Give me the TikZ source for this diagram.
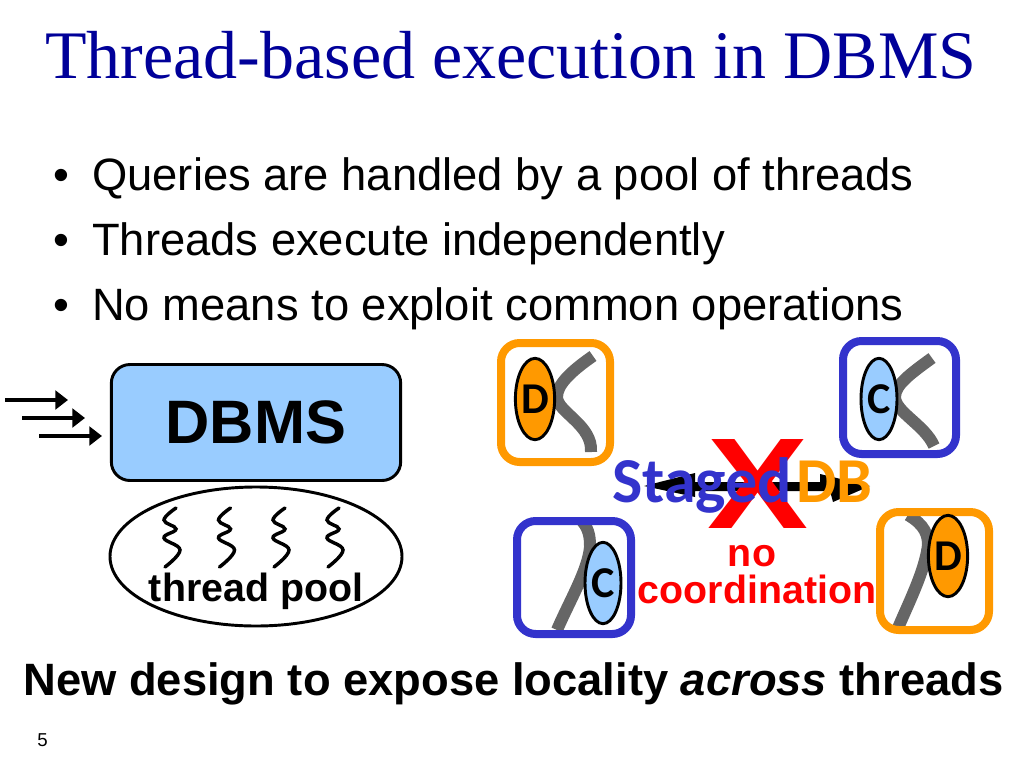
\documentclass[tikz,border=0pt]{standalone}
\usepackage{fontspec}
\setmainfont{Liberation Sans}
\newfontfamily\titlefont{Liberation Serif}
\newfontfamily\handfont{Carlito}
\usetikzlibrary{arrows.meta, shapes.geometric}
\definecolor{titleblue}{HTML}{000099}
\definecolor{boxblue}{HTML}{3333CC}
\definecolor{boxorange}{HTML}{FF9900}
\definecolor{lightblue}{HTML}{99CCFF}
\definecolor{threadgray}{HTML}{666666}
\newcommand{\fs}[1]{\fontsize{#1}{#1}\selectfont}

\begin{document}
\begin{tikzpicture}[x=0.75pt, y=-0.75pt,
  bodytext/.style={anchor=base west, inner sep=0, font=\fs{34}},
  boldtext/.style={anchor=base, inner sep=0, font=\fs{29.5}\bfseries},
  request/.style={line width=2.5pt, -{Triangle[length=9.5pt, width=14pt]}},
  stagebox/.style={line width=6pt, rounded corners=14pt},
  thread/.style={line width=9pt, threadgray},
  squiggle/.style={line width=2.6pt, line cap=round},
  opnode/.style={draw, line width=2.2pt, ellipse, minimum width=27pt, minimum height=61pt, inner sep=0, font=\handfont\fs{33}\bfseries}]
\useasboundingbox (0,0) rectangle (1024,768);
% ---------- title and bullets ----------
\node[anchor=base west, inner sep=0, titleblue, font=\titlefont\fs{51}] (title) at (45,78) {Thread-based execution in DBMS};
\node[bodytext] (dotA) at (53,190) {•};
\node[bodytext] (dotB) at (53,255) {•};
\node[bodytext] (dotC) at (53,320) {•};
\node[bodytext] (lineA) at (92,190) {Queries are handled by a pool of threads};
\node[bodytext] (lineB) at (92,255) {Threads execute independently};
\node[bodytext] (lineC) at (92,320) {No means to exploit common operations};
% ---------- left: DBMS and its pool ----------
\node[draw, line width=2.2pt, rounded corners=14pt, fill=lightblue, minimum width=217pt, minimum height=87pt, inner sep=0, font=\fs{46}\bfseries] (dbms) at (256,422.5) {DBMS};
\coordinate (inA) at (5,400);
\coordinate (inB) at (22,418);
\coordinate (inC) at (39,436);
\coordinate (toA) at (68,400);
\coordinate (toB) at (85,418);
\coordinate (toC) at (102,436);
\draw[request] (inA) -- (toA);
\draw[request] (inB) -- (toB);
\draw[request] (inC) -- (toC);
\draw[line width=2.2pt] (256,556.5) ellipse (146 and 69.5);
\foreach \s in {0,54.5,109,163}
  \draw[squiggle, shift={(\s,0)}] plot[smooth, tension=0.7] coordinates {(176,508) (164,520) (176,529) (164,538) (180,550) (165,567)};
\node[boldtext] (pool) at (256,601) {thread pool};
% ---------- right: four stages, no coordination ----------
\draw[thread] (593,356) .. controls (570,372) and (557,385) .. (557,397) .. controls (557,412) and (593,425) .. (591,452);
\draw[stagebox, boxorange] (501,343) rectangle (610,462);
\node[opnode, fill=boxorange] (opA) at (535,399) {D};
\draw[thread] (932,358) .. controls (910,374) and (895,385) .. (895,397) .. controls (895,412) and (925,425) .. (934,446);
\draw[stagebox, boxblue] (843,341) rectangle (956,454);
\node[opnode, fill=lightblue] (opB) at (879,399) {C};
\draw[thread] (582,521) .. controls (590,530) and (590,540) .. (590,547) .. controls (588,570) and (570,600) .. (557,630);
\draw[stagebox, boxblue] (517,521) rectangle (631,634);
\node[opnode, fill=lightblue] (opC) at (603,583) {C};
\draw[thread] (908,515) .. controls (925,525) and (928,535) .. (928,545) .. controls (925,570) and (910,600) .. (898,628);
\draw[stagebox, boxorange] (880,512) rectangle (989,630);
\node[opnode, fill=boxorange] (opD) at (948,556) {D};
% double arrow behind the name
\fill (644,486) -- (695,473) -- (695,482) -- (820,482) -- (820,474) -- (870,486) -- (833,502) -- (830,491) -- (695,491) -- (695,497) -- cycle;
\node[anchor=base, inner sep=0, red, font=\fs{97}\bfseries] (cross) at (758,528) {\scalebox{1.17}[1]{X}};
\node[anchor=base west, inner sep=0, boxblue, font=\handfont\fs{48}\bfseries] (staged) at (612,502) {Staged};
\node[anchor=base west, inner sep=0, boxorange, font=\handfont\fs{48}\bfseries] (db) at (796,502) {DB};
\node[boldtext, red] (no) at (752,566) {no};
\node[boldtext, red] (coord) at (757,603) {coordination};
% ---------- bottom line ----------
\node[anchor=base, inner sep=0, font=\fs{34}\bfseries] (claim) at (513.5,695) {New design to expose locality \textit{across} threads};
\node[anchor=base west, inner sep=0, font=\fs{14}] (page) at (37,746) {5};
\end{tikzpicture}
\end{document}
